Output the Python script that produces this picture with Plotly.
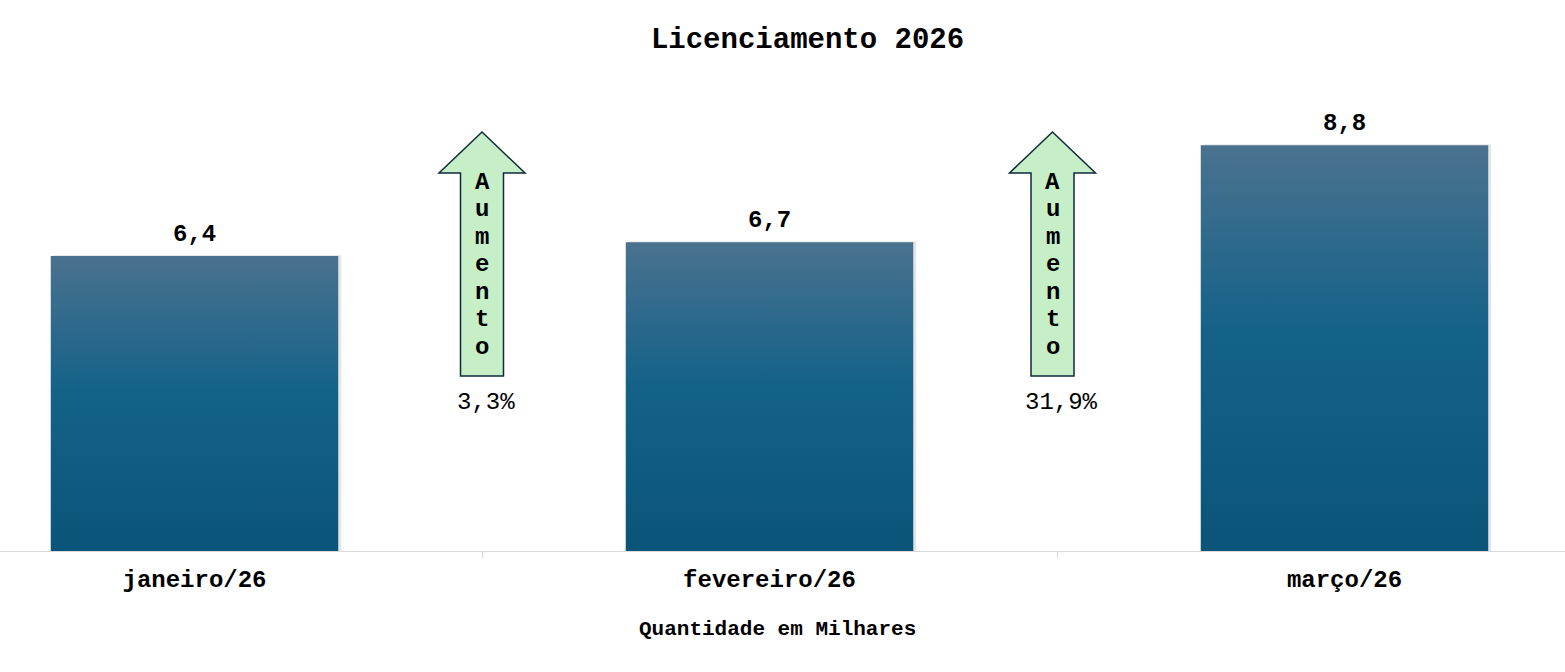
import plotly.graph_objects as go

# dados
meses = ["janeiro/26", "fevereiro/26", "março/26"]
valores = [6.4, 6.7, 8.8]
rotulos = ["6,4", "6,7", "8,8"]
variacao = ["3,3%", "31,9%"]
palavra = "Aumento"

fonte = "Courier New, Liberation Mono, monospace"
cores_barra = [[0, "#0a5479"], [0.55, "#156289"], [1, "#4a728f"]]

px_x = 575.0   # pixels por unidade no eixo x
px_y = 46.1    # pixels por unidade no eixo y

fig = go.Figure()

# sombra leve das barras
for i, v in enumerate(valores):
    dx = 3 / px_x
    fig.add_trace(go.Scatter(
        x=[i - 0.25 + dx, i - 0.25 + dx, i + 0.25 + dx, i + 0.25 + dx, i - 0.25 + dx],
        y=[0, v + 1 / px_y, v + 1 / px_y, 0, 0],
        mode="lines", line=dict(width=0), fill="toself",
        fillcolor="rgba(0,0,0,0.10)", hoverinfo="skip", showlegend=False))

# barras com degradê (polígono preenchido)
for i, v in enumerate(valores):
    fig.add_trace(go.Scatter(
        x=[i - 0.25, i - 0.25, i + 0.25, i + 0.25, i - 0.25],
        y=[0, v, v, 0, 0],
        mode="lines", line=dict(width=0),
        fill="toself",
        fillgradient=dict(type="vertical", colorscale=cores_barra, start=0, stop=v),
        hoverinfo="skip", showlegend=False))

# rótulos das barras
for i, v in enumerate(valores):
    fig.add_annotation(x=i, y=v, text=rotulos[i], showarrow=False,
                       yanchor="bottom", yshift=6,
                       font=dict(family=fonte, size=24, color="#000000", weight="bold"))

# setas de aumento entre as barras
for k, txt in enumerate(variacao):
    xc = k + 0.5 - k * 4.5 / px_x
    hs = 21.5 / px_x
    hh = 43 / px_x
    topo = (551 - 132) / px_y
    base_cab = (551 - 173) / px_y
    fundo = (551 - 376) / px_y
    path = (f"M {xc - hs} {fundo} L {xc - hs} {base_cab} L {xc - hh} {base_cab} "
            f"L {xc} {topo} L {xc + hh} {base_cab} L {xc + hs} {base_cab} "
            f"L {xc + hs} {fundo} Z")
    fig.add_shape(type="path", path=path, xref="x", yref="y",
                  fillcolor="#c6efc8", line=dict(color="#0d2b3a", width=1.5))
    for j, letra in enumerate(palavra):
        fig.add_annotation(x=xc, y=(551 - 182 - 27.5 * j) / px_y, text=letra,
                           showarrow=False, yanchor="middle",
                           font=dict(family=fonte, size=24, color="#000000", weight="bold"))
    fig.add_annotation(x=k + 0.5 + 4 / px_x, y=(551 - 402) / px_y, text=txt,
                       showarrow=False, yanchor="middle",
                       font=dict(family=fonte, size=24, color="#000000"))

fig.add_annotation(x=0.4965, y=-(629 - 551) / 491, xref="paper", yref="paper",
                   text="Quantidade em Milhares", showarrow=False, yanchor="middle",
                   font=dict(family=fonte, size=21, color="#000000", weight="bold"))

fig.update_layout(
    width=1565, height=672,
    margin=dict(l=0, r=0, t=60, b=121),
    paper_bgcolor="white", plot_bgcolor="white",
    title=dict(text="Licenciamento 2026", x=0.516, xanchor="center",
               y=1 - 38 / 672, yanchor="middle",
               font=dict(family=fonte, size=29, color="#000000", weight="bold")),
    xaxis=dict(range=[-194.5 / 575, (1565 - 194.5) / 575],
               tickmode="array", tickvals=[0, 1, 2], ticktext=meses,
               ticks="", showgrid=False, zeroline=False,
               showline=True, linecolor="#d9d9d9", linewidth=1,
               tickfont=dict(family=fonte, size=24, color="#000000", weight="bold"),
               ticklabelstandoff=6,
               minor=dict(tickmode="array", tickvals=[0.5, 1.5], ticks="outside",
                          ticklen=6, tickcolor="#d9d9d9", showgrid=False)),
    yaxis=dict(range=[0, 491 / 46.1], visible=False),
)

fig.write_html("out.html", config={"displayModeBar": False},
               post_script="document.body.style.margin='0';")
